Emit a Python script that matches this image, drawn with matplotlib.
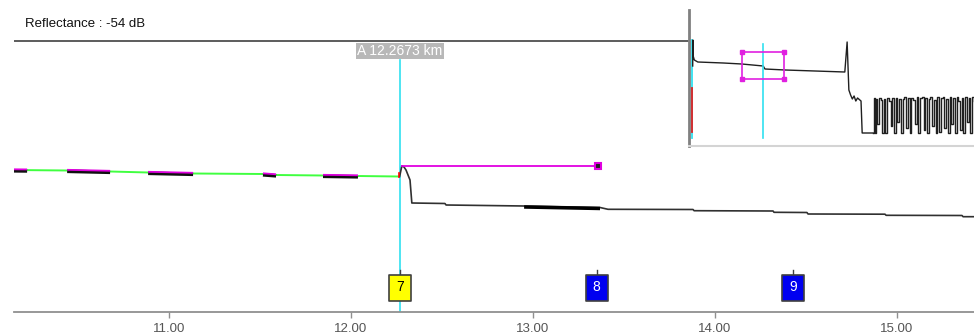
import matplotlib.pyplot as plt
from matplotlib.path import Path
import numpy as np

plt.rcParams["font.family"] = ["Liberation Sans", "DejaVu Sans"]

# main trace before the event (km, dB)
pre_km = [10.143, 10.44, 10.676, 10.885, 11.132, 11.516, 11.588, 11.846, 12.038, 12.262]
pre_db = [14.2, 14.15, 14.05, 13.95, 13.85, 13.8, 13.7, 13.65, 13.6, 13.55]
# highlighted sections on the trace
seg_start = [10.143, 10.44, 10.885, 11.516, 11.846]
seg_end = [10.22, 10.676, 11.132, 11.588, 12.038]

# trace after the event
post_km = [12.267, 12.279, 12.291, 12.302, 12.313, 12.324, 12.334, 12.516, 12.522, 12.951,
           13.368, 13.412, 13.879, 13.885, 14.319, 14.324, 14.505, 14.511, 14.934, 14.94,
           15.357, 15.363, 15.423]
post_db = [13.55, 14.6, 14.5, 14.2, 13.7, 13.2, 10.9, 10.85, 10.7, 10.6,
           10.45, 10.27, 10.25, 10.13, 10.1, 9.97, 9.95, 9.8, 9.78, 9.67,
           9.65, 9.53, 9.53]
thick_start, thick_end = 12.951, 13.368

cursor_km = 12.2673
cursor_label = "A 12.2673 km"
reflectance = "Reflectance : -54 dB"
loss_end_km = 13.357
loss_db = 14.6

event_km = [12.2673, 13.35, 14.43]
event_labels = ["7", "8", "9"]
event_colors = ["#ffff00", "#0000f0", "#0000f0"]
event_text = ["black", "white", "white"]

xticks = [11, 12, 13, 14, 15]

# overview (inset) trace
ov_km = [0.12, 0.15, 0.2, 0.3, 0.4, 1.0, 5.4, 8.6, 12.3, 12.6, 16.1, 26.4, 26.8, 27.1,
         27.4, 27.7, 28.0, 28.3, 28.6, 29.2, 29.4, 31.3]
ov_v = [80, 106, 90, 88, 86, 84, 83, 82, 80, 77, 76, 74, 104, 56,
        51, 47, 50, 45, 48, 45, 13, 13]
noise_km = [31.3, 31.4, 31.6, 31.8, 32.0, 32.3, 32.6, 32.8, 33.1, 33.4, 33.7, 34.0, 34.3,
            34.6, 34.9, 35.2, 35.5, 35.8, 36.1, 36.4, 36.7, 37.0, 37.3, 37.6, 37.9, 38.2,
            38.5, 38.8, 39.1, 39.4, 39.7, 40.0, 40.3, 40.6, 40.9, 41.2, 41.5, 41.8, 42.1,
            42.4, 42.7, 43.0, 43.3, 43.6, 43.9, 44.2, 44.5, 44.8, 45.1, 45.4, 45.7, 46.0,
            46.3, 46.6, 46.9, 47.2, 47.5, 47.8, 48.1, 48.4, 48.7]
noise_v = [13, 48, 13, 47, 22, 48, 46, 13, 47, 13, 48, 45, 20, 48, 13, 48, 24, 47, 13,
           47, 49, 18, 48, 13, 48, 46, 22, 49, 13, 48, 49, 16, 48, 13, 47, 49, 20, 46,
           13, 49, 14, 48, 49, 18, 47, 13, 49, 22, 48, 13, 49, 45, 16, 48, 13, 49, 24,
           48, 13, 49, 45]
zoom_km = [8.6, 15.9]
zoom_v = [67, 94]

fig = plt.figure(figsize=(9.74, 3.35), dpi=100)
ax = fig.add_axes([14 / 974, 23 / 335, 960 / 974, 312 / 335])
ax.set_xlim(10.148, 15.423)
ax.set_ylim(0, 31.2)
for s in ["top", "right", "left"]:
    ax.spines[s].set_visible(False)
ax.spines["bottom"].set_color("#909090")
ax.spines["bottom"].set_linewidth(1.3)
ax.set_yticks([])
ax.set_xticks(xticks)
ax.set_xticklabels([f"{t:.2f}" for t in xticks])
ax.tick_params(axis="x", colors="#909090", labelcolor="#555555", labelsize=9.5,
               length=4, width=1, pad=4)

# trace
ax.plot(pre_km, pre_db, color="#40ff40", lw=1.4, zorder=3)
for a, b in zip(seg_start, seg_end):
    xs = np.array([a, b])
    ys = np.interp(xs, pre_km, pre_db)
    ax.plot(xs, ys - 0.08, color="#101010", lw=2.6, solid_capstyle="butt", zorder=4)
    ax.plot(xs, ys + 0.07, color="#e000e0", lw=1.3, solid_capstyle="butt", zorder=5)
ax.plot([pre_km[-1], pre_km[-1]], [13.5, 13.9], color="red", lw=1.2, zorder=4)
ax.plot(post_km, post_db, color="#303030", lw=1.2, zorder=3)
tx = np.array([thick_start, thick_end])
ax.plot(tx, np.interp(tx, post_km, post_db) - 0.1, color="black", lw=2.5,
        solid_capstyle="butt", zorder=3)
ax.plot([post_km[1], loss_end_km], [loss_db, loss_db], color="#e000e0", lw=1.3, zorder=4)
ax.plot([loss_end_km], [loss_db], marker="s", ms=4.5, mfc="#202020", mec="#e000e0",
        mew=1.5, zorder=5)

# cursor
ax.plot([cursor_km, cursor_km], [0, 25.2], color="#30e0f0", lw=1.2, zorder=2)
ax.text(cursor_km, 26.1, cursor_label, ha="center", va="center", color="white",
        fontsize=10, bbox=dict(boxstyle="square,pad=0.1", fc="#b8b8b8", ec="none"), zorder=6)
ax.axhline(27.1, xmin=-1 / 960, xmax=(688 - 14) / 960, color="#303030", lw=1.1)
ax.text(10.21, 28.75, reflectance, ha="left", va="center", fontsize=9.5, color="#111111")

# event markers
box = Path([(-11, -13), (11, -13), (11, 13), (-11, 13), (-11, -13)],
           [Path.MOVETO, Path.LINETO, Path.LINETO, Path.LINETO, Path.CLOSEPOLY])
for k, lab, fc, tc in zip(event_km, event_labels, event_colors, event_text):
    ax.plot([k, k], [3.7, 4.2], color="#404040", lw=1, zorder=5)
    ax.plot([k], [2.45], marker=box, ms=18.7, mfc=fc, mec="#404040", mew=1.2, zorder=6)
    ax.text(k, 2.5, lab, ha="center", va="center", color=tc, fontsize=10, zorder=7)

# overview inset
ai = fig.add_axes([689 / 974, (335 - 146) / 335, 285 / 974, 136 / 335])
ai.set_xlim(-0.52, 48.72)
ai.set_ylim(0, 136)
ai.set_xticks([])
ai.set_yticks([])
ai.spines["top"].set_visible(False)
ai.spines["right"].set_visible(False)
ai.spines["left"].set_color("#808080")
ai.spines["left"].set_linewidth(2)
ai.spines["bottom"].set_color("#d4d4d4")
ai.spines["bottom"].set_linewidth(1.5)
ai.plot([0, 0], [8, 106], color="#30e0f0", lw=1.3)
ai.plot([0, 0], [14, 58], color="#e02020", lw=1.3)
ai.plot(ov_km, ov_v, color="#202020", lw=1)
ai.plot(noise_km, noise_v, color="#202020", lw=1, drawstyle="steps-post")
ai.plot([cursor_km, cursor_km], [8, 102], color="#30e0f0", lw=1.2)
rx = [zoom_km[0], zoom_km[1], zoom_km[1], zoom_km[0], zoom_km[0]]
ry = [zoom_v[0], zoom_v[0], zoom_v[1], zoom_v[1], zoom_v[0]]
ai.plot(rx, ry, color="#e020e0", lw=1.2)
ai.plot(rx[:4], ry[:4], ls="none", marker="s", ms=3, color="#e020e0")

fig.savefig("out.png", dpi=100)
